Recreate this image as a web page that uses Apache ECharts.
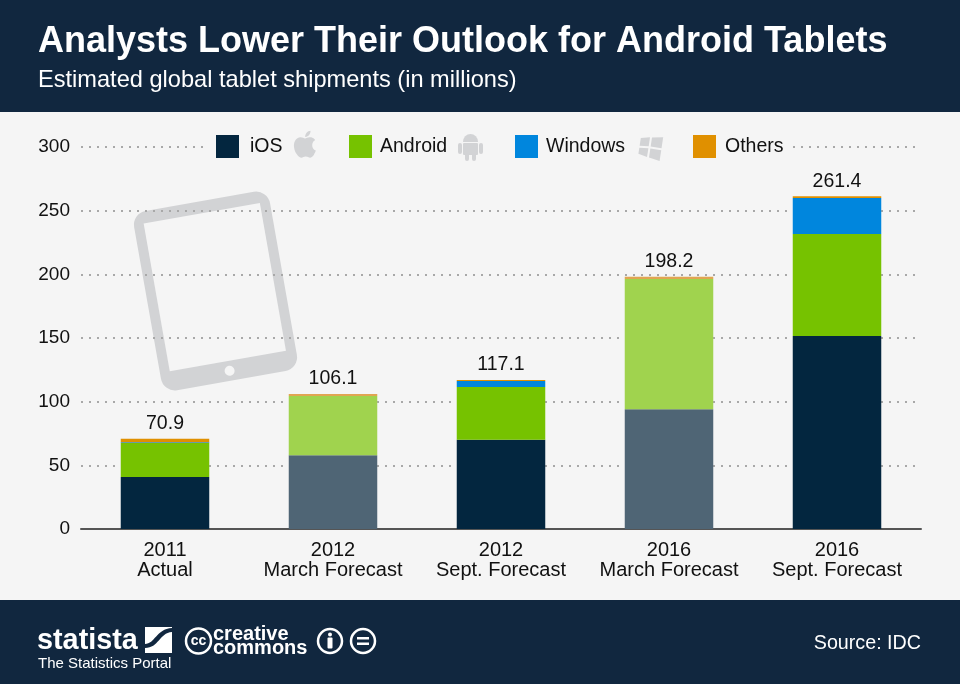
<!DOCTYPE html>
<html>
<head>
<meta charset="utf-8">
<title>Analysts Lower Their Outlook for Android Tablets</title>
<script src="https://cdn.jsdelivr.net/npm/echarts@6/dist/echarts.min.js"></script>
<style>
  html, body { margin: 0; padding: 0; background: #f5f5f5; }
  #chart-container { width: 960px; height: 684px; }
</style>
</head>
<body>
<div id="chart-container"></div>
<script>
var categories = ['2011\nActual', '2012\nMarch Forecast', '2012\nSept. Forecast', '2016\nMarch Forecast', '2016\nSept. Forecast'];
var iosValues = [40.8, 58, 70, 94, 151.6];
var androidValues = [26.7, 46.5, 41.5, 102.3, 80.1];
var windowsValues = [0.7, 0, 4.7, 0, 28.3];
var othersValues = [2.7, 1.6, 0.9, 1.9, 1.4];
var totals = [70.9, 106.1, 117.1, 198.2, 261.4];
var yTicks = { min: 0, max: 300, interval: 50 };
// these two forecasts are drawn paler in the original
var paleBars = [1, 3];

var FONT = '"Liberation Sans", Arial, sans-serif';
var NAVY = '#11273f';
var BG = '#f5f5f5';
var ICON = '#d2d3d5';

var dom = document.getElementById('chart-container');
var myChart = echarts.init(dom, null, { renderer: 'canvas' });

// svg outlines for the logo bits, graphic has no plain "path" type
echarts.graphic.registerShape('appleLogo', echarts.graphic.extendPath('M18.7 19.5c-.8 1.2-1.7 2.5-3 2.5s-1.8-.8-3.3-.8-2 .8-3.3.8c-1.4.1-2.4-1.3-3.3-2.5C4 17 2.7 12.5 4.5 9.4c.9-1.5 2.4-2.5 4.1-2.5 1.3 0 2.5.9 3.3.9s2.3-1.1 3.8-.9c.7 0 2.5.3 3.7 2-.1.1-2.2 1.3-2.2 3.8 0 3 2.6 4 2.7 4-.1.1-.4 1.4-1.4 2.8zM13 3.500c.7-.8 1.900-1.500 2.900-1.500.1 1.200-.3 2.300-1 3.200-.7.8-1.800 1.500-2.900 1.400-.1-1.100.4-2.300 1-3.100z', {}));
echarts.graphic.registerShape('androidHead', echarts.graphic.extendPath('M0 10A10 10 0 0 1 20 10Z', {}));
echarts.graphic.registerShape('statistaWave', echarts.graphic.extendPath('M0 17C10 17 11 2 27 1L27 5C14 6 14 21 0 21Z', {}));

function barData(values, pale) {
  return values.map(function (v, i) {
    if (pale && paleBars.indexOf(i) >= 0) {
      return { value: v, itemStyle: { color: pale } };
    }
    return v;
  });
}

function legendAt(name, left, textGap) {
  return {
    data: [name],
    left: left,
    top: 135,
    padding: 0,
    itemWidth: 23,
    itemHeight: 23,
    icon: 'rect',
    selectedMode: false,
    textStyle: { color: '#111', fontSize: 19.5, fontFamily: FONT, padding: [4, 0, 0, textGap] }
  };
}

// background bands, tablet and footer marks
var bands = [
  { type: 'rect', z: -5, shape: { x: 0, y: 0, width: 960, height: 112 }, style: { fill: NAVY } },
  { type: 'rect', z: -5, shape: { x: 0, y: 600, width: 960, height: 84 }, style: { fill: NAVY } }
];

var tablet = {
  type: 'group',
  x: 215.5, y: 291,
  rotation: 0.175,
  children: [
    { type: 'rect', z: -3, shape: { x: -69, y: -91, width: 138, height: 182, r: 14 }, style: { fill: ICON } },
    { type: 'rect', z: -2, shape: { x: -59, y: -79, width: 118, height: 150 }, style: { fill: BG } },
    { type: 'circle', z: -2, shape: { cx: 0, cy: 81, r: 5 }, style: { fill: BG } }
  ]
};

// covers the 300 gridline behind the legend
var legendCover = { type: 'rect', z: 1, shape: { x: 206, y: 140, width: 586, height: 14 }, style: { fill: BG } };

var appleIcon = { type: 'appleLogo', z: 3, x: 289, y: 128, scaleX: 1.35, scaleY: 1.35, style: { fill: ICON } };

var androidIcon = {
  type: 'group',
  children: [
    { type: 'androidHead', z: 3, x: 463, y: 134, scaleX: 0.75, scaleY: 0.8, style: { fill: ICON } },
    { type: 'rect', z: 3, shape: { x: 463, y: 143, width: 15, height: 12, r: 1 }, style: { fill: ICON } },
    { type: 'rect', z: 3, shape: { x: 458, y: 143, width: 4, height: 11, r: 2 }, style: { fill: ICON } },
    { type: 'rect', z: 3, shape: { x: 479, y: 143, width: 4, height: 11, r: 2 }, style: { fill: ICON } },
    { type: 'rect', z: 3, shape: { x: 465, y: 153, width: 4, height: 8, r: 2 }, style: { fill: ICON } },
    { type: 'rect', z: 3, shape: { x: 472, y: 153, width: 4, height: 8, r: 2 }, style: { fill: ICON } }
  ]
};

var windowsIcon = {
  type: 'group',
  x: 650.5, y: 147.5,
  rotation: -0.15,
  children: [
    { type: 'polygon', z: 3, shape: { points: [[-11, -8], [-2, -10], [-2, -1], [-11, 0]] }, style: { fill: ICON } },
    { type: 'polygon', z: 3, shape: { points: [[0, -10], [11, -12], [11, -1], [0, -1]] }, style: { fill: ICON } },
    { type: 'polygon', z: 3, shape: { points: [[-11, 2], [-2, 1], [-2, 10], [-11, 8]] }, style: { fill: ICON } },
    { type: 'polygon', z: 3, shape: { points: [[0, 1], [11, 1], [11, 12], [0, 10]] }, style: { fill: ICON } }
  ]
};

function footerText(text, x, y, size, weight, align) {
  return {
    type: 'text', z: 3, x: x, y: y,
    style: { text: text, fill: '#fff', font: weight + ' ' + size + 'px ' + FONT, textAlign: align || 'left', textVerticalAlign: 'middle' }
  };
}

function ring(cx, cy, r) {
  return { type: 'circle', z: 3, shape: { cx: cx, cy: cy, r: r }, style: { fill: 'none', stroke: '#fff', lineWidth: 2.5 } };
}

var statistaWord = footerText('statista', 37, 641, 30, 'bold');
statistaWord.scaleX = 0.96;

var footerMarks = [
  statistaWord,
  { type: 'rect', z: 3, shape: { x: 145, y: 627, width: 27, height: 26 }, style: { fill: '#fff' } },
  { type: 'statistaWave', z: 4, x: 145, y: 627, style: { fill: NAVY } },
  footerText('The Statistics Portal', 38, 664, 15, 'normal'),
  ring(198.5, 641, 12.5),
  footerText('cc', 198.5, 641, 14, 'bold', 'center'),
  footerText('creative', 213, 634, 20, 'bold'),
  footerText('commons', 213, 648, 20, 'bold'),
  ring(330, 641, 12),
  { type: 'circle', z: 3, shape: { cx: 330, cy: 634.5, r: 2 }, style: { fill: '#fff' } },
  { type: 'rect', z: 3, shape: { x: 327.5, y: 637.5, width: 5, height: 11, r: 1 }, style: { fill: '#fff' } },
  ring(363, 641, 12),
  { type: 'rect', z: 3, shape: { x: 357, y: 637, width: 12, height: 2.5 }, style: { fill: '#fff' } },
  { type: 'rect', z: 3, shape: { x: 357, y: 642.5, width: 12, height: 2.5 }, style: { fill: '#fff' } },
  footerText('Source: IDC', 921, 644, 19.7, 'normal', 'right')
];

var option = {
  backgroundColor: BG,
  animation: false,
  title: {
    text: 'Analysts Lower Their Outlook for Android Tablets',
    subtext: 'Estimated global tablet shipments (in millions)',
    left: 38,
    top: 22,
    padding: 0,
    itemGap: 5,
    textStyle: { color: '#fff', fontFamily: FONT, fontSize: 36, fontWeight: 'bold', lineHeight: 40 },
    subtextStyle: { color: '#fff', fontFamily: FONT, fontSize: 23.6, lineHeight: 26 }
  },
  legend: [
    legendAt('iOS', 216, 6),
    legendAt('Android', 349, 3),
    legendAt('Windows', 515, 3),
    legendAt('Others', 693, 4)
  ],
  grid: { left: 81, right: 39, top: 147, bottom: 155 },
  xAxis: {
    type: 'category',
    data: categories,
    axisTick: { show: false },
    axisLine: { lineStyle: { color: '#555', width: 2 } },
    axisLabel: { color: '#111', fontSize: 20, fontFamily: FONT, lineHeight: 20, margin: 11, interval: 0 }
  },
  yAxis: {
    type: 'value',
    min: yTicks.min,
    max: yTicks.max,
    interval: yTicks.interval,
    axisLine: { show: false },
    axisTick: { show: false },
    axisLabel: { color: '#111', fontSize: 19, fontFamily: FONT, margin: 11 },
    splitLine: { lineStyle: { color: '#a8a8a8', width: 2, type: [2, 6] } }
  },
  series: [
    { name: 'iOS', type: 'bar', stack: 'total', barWidth: 88.5, itemStyle: { color: '#03263f' }, data: barData(iosValues, '#4f6575') },
    { name: 'Android', type: 'bar', stack: 'total', itemStyle: { color: '#76c200' }, data: barData(androidValues, '#a0d34e') },
    { name: 'Windows', type: 'bar', stack: 'total', itemStyle: { color: '#0086dd' }, data: barData(windowsValues) },
    {
      name: 'Others', type: 'bar', stack: 'total', itemStyle: { color: '#e09000' },
      data: barData(othersValues, '#e0a552'),
      label: {
        show: true, position: 'top', distance: 5, color: '#111', fontSize: 19.5, fontFamily: FONT,
        formatter: function (p) { return totals[p.dataIndex].toFixed(1); }
      }
    }
  ],
  graphic: { elements: bands.concat([tablet, legendCover, appleIcon, androidIcon, windowsIcon]).concat(footerMarks) }
};

myChart.setOption(option);
</script>
</body>
</html>
